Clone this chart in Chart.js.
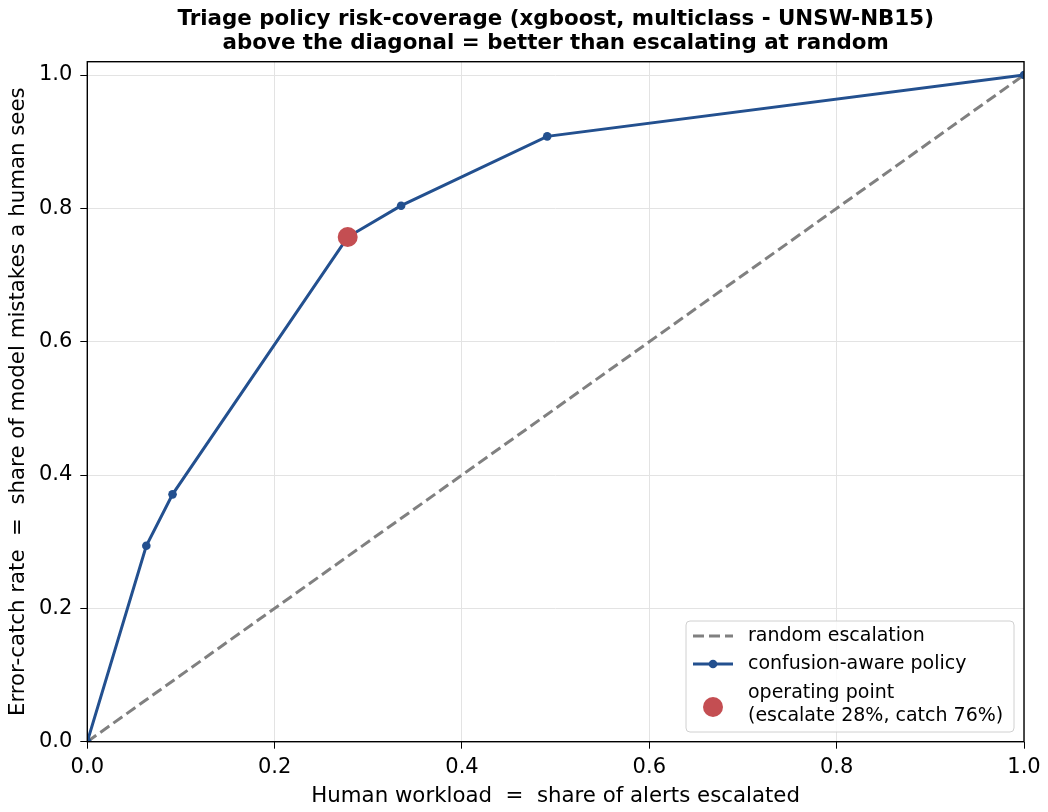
<!DOCTYPE html>
<html>
<head>
<meta charset="utf-8">
<script src="https://cdn.jsdelivr.net/npm/chart.js@4.4.1/dist/chart.umd.min.js"></script>
<style>
  html, body { margin: 0; padding: 0; background: #fff; }
  #wrap { width: 1048px; height: 812px; }
</style>
</head>
<body>
<div id="wrap"><canvas id="chart" width="1048" height="812"></canvas></div>
<script>
const workload = [0, 0.063, 0.091, 0.278, 0.335, 0.491, 1.0];
const catchRate = [0, 0.294, 0.371, 0.757, 0.804, 0.908, 1.0];
const randomX = [0, 1];
const randomY = [0, 1];
const operatingX = [0.278];
const operatingY = [0.757];
const xTicks = [0, 0.2, 0.4, 0.6, 0.8, 1.0];
const yTicks = [0, 0.2, 0.4, 0.6, 0.8, 1.0];
const titleLines = [
  "Triage policy risk-coverage (xgboost, multiclass - UNSW-NB15)",
  "above the diagonal = better than escalating at random",
];

const FONT = "'DejaVu Sans', sans-serif";
const BLUE = "#23508f";
const RED = "#c44e52";
const GRAY = "#808080";

function toPoints(xs, ys) {
  return xs.map((x, i) => ({ x: x, y: ys[i] }));
}

// matplotlib-like frame, title centred over the axes, legend box inside the axes
const framePlugin = {
  id: "frame",
  afterDraw(chart) {
    const { ctx, chartArea: a } = chart;
    ctx.save();
    ctx.strokeStyle = "#000";
    ctx.lineWidth = 1.4;
    ctx.strokeRect(a.left, a.top, a.right - a.left, a.bottom - a.top);

    // title
    ctx.fillStyle = "#000";
    ctx.font = "bold 21.4px " + FONT;
    ctx.textAlign = "center";
    ctx.textBaseline = "alphabetic";
    const cx = (a.left + a.right) / 2;
    ctx.fillText(titleLines[0], cx, 25);
    ctx.fillText(titleLines[1], cx, 48.5);

    // legend
    const bx = 686, by = 621, bw = 328, bh = 111;
    ctx.beginPath();
    ctx.roundRect(bx, by, bw, bh, 4);
    ctx.fillStyle = "rgba(255,255,255,0.8)";
    ctx.fill();
    ctx.strokeStyle = "#d0d0d0";
    ctx.lineWidth = 1;
    ctx.stroke();

    const ds = chart.data.datasets;
    ctx.font = "19px " + FONT;
    ctx.fillStyle = "#000";
    ctx.textBaseline = "middle";
    ctx.textAlign = "left";
    const tx = 748, hx0 = 693, hx1 = 733;

    // random escalation
    ctx.strokeStyle = ds[0].borderColor;
    ctx.lineWidth = ds[0].borderWidth;
    ctx.setLineDash(ds[0].borderDash);
    ctx.beginPath();
    ctx.moveTo(hx0, 636); ctx.lineTo(hx1, 636);
    ctx.stroke();
    ctx.setLineDash([]);
    ctx.fillText(ds[0].label, tx, 636);

    // policy
    ctx.strokeStyle = ds[1].borderColor;
    ctx.lineWidth = ds[1].borderWidth;
    ctx.beginPath();
    ctx.moveTo(hx0, 664); ctx.lineTo(hx1, 664);
    ctx.stroke();
    ctx.fillStyle = ds[1].pointBackgroundColor;
    ctx.beginPath();
    ctx.arc((hx0 + hx1) / 2, 664, ds[1].pointRadius, 0, Math.PI * 2);
    ctx.fill();
    ctx.fillStyle = "#000";
    ctx.fillText(ds[1].label, tx, 664);

    // operating point
    ctx.fillStyle = ds[2].pointBackgroundColor;
    ctx.beginPath();
    ctx.arc((hx0 + hx1) / 2, 707, ds[2].pointRadius, 0, Math.PI * 2);
    ctx.fill();
    ctx.fillStyle = "#000";
    const lines = ds[2].label.split("\n");
    ctx.fillText(lines[0], tx, 693);
    ctx.fillText(lines[1], tx, 716);
    ctx.restore();
  },
};

const gridColor = "#e3e3e3";

new Chart(document.getElementById("chart"), {
  type: "scatter",
  data: {
    datasets: [
      {
        label: "random escalation",
        data: toPoints(randomX, randomY),
        showLine: true,
        borderColor: GRAY,
        borderWidth: 3,
        borderDash: [11, 5],
        pointRadius: 0,
        order: 3,
      },
      {
        label: "confusion-aware policy",
        data: toPoints(workload, catchRate),
        showLine: true,
        borderColor: BLUE,
        borderWidth: 3,
        pointRadius: 4.3,
        pointBackgroundColor: BLUE,
        pointBorderWidth: 0,
        order: 2,
      },
      {
        label: "operating point\n(escalate 28%, catch 76%)",
        data: toPoints(operatingX, operatingY),
        pointRadius: 10,
        pointBackgroundColor: RED,
        pointBorderWidth: 0,
        order: 1,
      },
    ],
  },
  options: {
    responsive: false,
    animation: false,
    devicePixelRatio: 1,
    layout: { padding: { top: 61.7, right: 24, bottom: 0, left: 0 } },
    plugins: {
      legend: { display: false },
      tooltip: { enabled: false },
      title: { display: false },
    },
    scales: {
      x: {
        type: "linear",
        min: 0,
        max: 1,
        afterBuildTicks(scale) {
          scale.ticks = xTicks.map((v) => ({ value: v }));
        },
        afterFit(scale) {
          scale.height = 70.3;
        },
        grid: { color: gridColor, lineWidth: 1, tickLength: 7, tickColor: "#000", drawTicks: true },
        border: { display: false },
        ticks: {
          color: "#000",
          padding: 6,
          maxRotation: 0,
          font: { family: FONT, size: 21 },
          callback: (v) => v.toFixed(1),
        },
        title: {
          display: true,
          text: "Human workload  =  share of alerts escalated",
          color: "#000",
          font: { family: FONT, size: 21.3 },
          padding: { top: 0, bottom: 3 },
        },
      },
      y: {
        type: "linear",
        min: 0,
        max: 1.02,
        afterBuildTicks(scale) {
          scale.ticks = yTicks.map((v) => ({ value: v }));
        },
        afterFit(scale) {
          scale.width = 87.3;
        },
        grid: { color: gridColor, lineWidth: 1, tickLength: 7, tickColor: "#000" },
        border: { display: false },
        ticks: {
          color: "#000",
          padding: 8,
          font: { family: FONT, size: 21 },
          callback: (v) => v.toFixed(1),
        },
        title: {
          display: true,
          text: "Error-catch rate  =  share of model mistakes a human sees",
          color: "#000",
          font: { family: FONT, size: 21.3 },
          padding: { top: 5.5, bottom: 0 },
        },
      },
    },
  },
  plugins: [framePlugin],
});
</script>
</body>
</html>
